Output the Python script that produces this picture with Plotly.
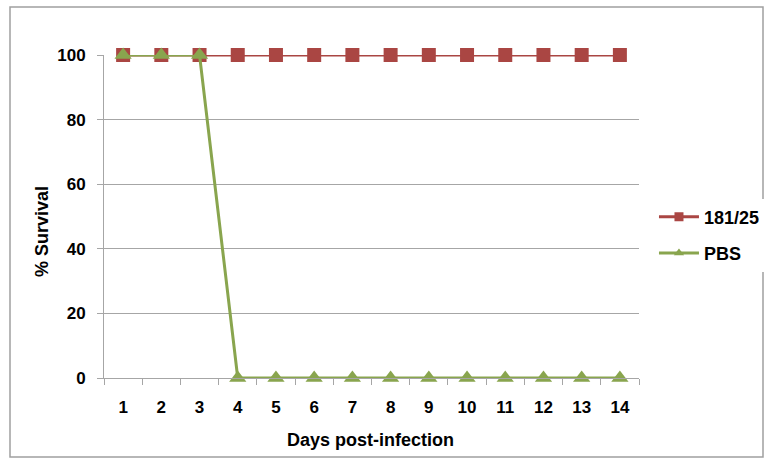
import plotly.graph_objects as go

# Survival data (percent of animals alive per day)
days = [str(d) for d in range(1, 15)]
survival_181_25 = [100] * 14
survival_pbs = [100, 100, 100, 0, 0, 0, 0, 0, 0, 0, 0, 0, 0, 0]
y_ticks = [0, 20, 40, 60, 80, 100]
series_names = ["181/25", "PBS"]

RED = "#AA4643"
GREEN = "#89A54E"
AXIS_GRAY = "#A6A6A6"
FONT = "Liberation Sans"

# plot area in pixels
L, R, T, B = 104, 639, 55, 378
W, H = R - L, B - T


def px_x(x):
    return (x - L) / W


def px_y(y):
    return (B - y) / H


fig = go.Figure()
series = [
    (series_names[0], survival_181_25, RED, "square", 14, "a"),
    (series_names[1], survival_pbs, GREEN, "triangle-up", 15, "b"),
]
for name, values, color, symbol, size, grp in series:
    fig.add_trace(go.Scatter(
        x=days, y=values, name=name, mode="lines+markers",
        line=dict(color=color, width=3),
        marker=dict(symbol=symbol, size=size, color=color),
        cliponaxis=False, showlegend=False, legendgroup=grp,
    ))
    # legend entry with a smaller marker
    fig.add_trace(go.Scatter(
        x=[None], y=[None], name=name, mode="lines+markers",
        line=dict(color=color, width=3),
        marker=dict(symbol=symbol, size=9, color=color),
        legendgroup=grp,
    ))

bold = dict(family=FONT, color="black", weight="bold")

fig.update_layout(
    width=766, height=460,
    margin=dict(l=L, r=766 - R, t=T, b=460 - B, autoexpand=False),
    paper_bgcolor="white", plot_bgcolor="white",
    font=dict(family=FONT, color="black", size=17),
    legend=dict(
        x=1.028, y=px_y(235), xanchor="left", yanchor="middle",
        font=dict(bold, size=18),
        tracegroupgap=10, itemwidth=40,
    ),
    xaxis=dict(
        type="category", range=[-0.5, 13.5],
        showline=True, linecolor=AXIS_GRAY, linewidth=1,
        ticks="outside", tickson="boundaries", ticklen=6, tickcolor=AXIS_GRAY,
        ticklabelstandoff=14,
        tickfont=dict(bold, size=17),
        showgrid=False,
    ),
    yaxis=dict(
        range=[0, 100], tickvals=y_ticks,
        showline=True, linecolor=AXIS_GRAY, linewidth=1,
        ticks="outside", ticklen=6, tickcolor=AXIS_GRAY,
        ticklabelstandoff=8,
        showgrid=True, gridcolor=AXIS_GRAY, gridwidth=1,
        zeroline=False,
        tickfont=dict(bold, size=17),
    ),
    annotations=[
        dict(text="Days post-infection", xref="paper", yref="paper",
             x=px_x(370), y=px_y(440), showarrow=False,
             xanchor="center", yanchor="middle", font=dict(bold, size=18)),
        dict(text="% Survival", xref="paper", yref="paper",
             x=px_x(42), y=px_y(232), showarrow=False, textangle=-90,
             xanchor="center", yanchor="middle", font=dict(bold, size=18)),
    ],
    shapes=[dict(
        type="rect", xref="paper", yref="paper",
        x0=px_x(10), x1=px_x(763), y0=px_y(457), y1=px_y(7),
        line=dict(color="#A0A0A0", width=1.5), layer="below",
    )],
)

fig.write_html("out.html")
